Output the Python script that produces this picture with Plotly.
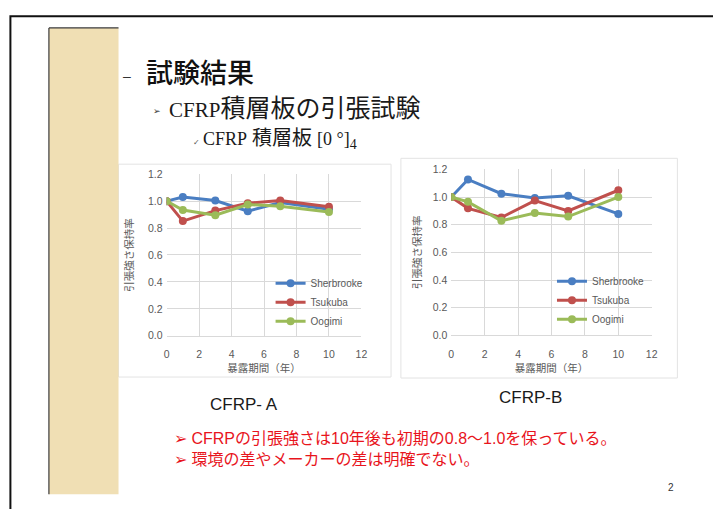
import plotly.graph_objects as go

W, H = 713, 509

years = [0, 1, 3, 5, 7, 10]
series_names = ["Sherbrooke", "Tsukuba", "Oogimi"]
colors = ["#4a7ec2", "#c0504d", "#9bbb59"]

a_sherbrooke = [1.00, 1.03, 1.005, 0.925, 0.99, 0.94]
a_tsukuba = [1.00, 0.852, 0.93, 0.985, 1.005, 0.958]
a_oogimi = [1.00, 0.934, 0.895, 0.975, 0.963, 0.919]

b_sherbrooke = [1.00, 1.127, 1.024, 0.993, 1.009, 0.878]
b_tsukuba = [1.00, 0.918, 0.852, 0.974, 0.899, 1.049]
b_oogimi = [1.00, 0.965, 0.828, 0.885, 0.859, 1.00]

x_ticks = [0, 2, 4, 6, 8, 10, 12]
y_ticks = [0.0, 0.2, 0.4, 0.6, 0.8, 1.0, 1.2]

x_title = "暴露期間（年）"
y_title = "引張強さ保持率"

def px(x):
    return x / W

def py(y):
    return 1 - y / H

fig = go.Figure()

for i, (name, vals) in enumerate(zip(series_names, [a_sherbrooke, a_tsukuba, a_oogimi])):
    fig.add_trace(go.Scatter(x=years, y=vals, name=name, mode="lines+markers",
                             line=dict(color=colors[i], width=3),
                             marker=dict(color=colors[i], size=8),
                             xaxis="x", yaxis="y", legend="legend"))
for i, (name, vals) in enumerate(zip(series_names, [b_sherbrooke, b_tsukuba, b_oogimi])):
    fig.add_trace(go.Scatter(x=years, y=vals, name=name, mode="lines+markers",
                             line=dict(color=colors[i], width=3),
                             marker=dict(color=colors[i], size=8),
                             xaxis="x2", yaxis="y2", legend="legend2"))

tickfont = dict(family="Liberation Sans, Noto Sans CJK JP", size=10.5, color="#595959")
titlefont = dict(family="Noto Sans CJK JP", size=10.5, color="#595959")

def xaxis(dom, anchor):
    return dict(domain=dom, anchor=anchor, range=[0, 12], tickvals=x_ticks,
                showgrid=True, gridcolor="#d9d9d9", gridwidth=1,
                showline=True, linecolor="#d9d9d9", zeroline=False,
                ticks="", tickfont=tickfont, ticklabelstandoff=9,
                title=dict(text=x_title, font=titlefont, standoff=3), fixedrange=True)

def yaxis(dom, anchor, standoff):
    return dict(domain=dom, anchor=anchor, range=[0, 1.2], tickvals=y_ticks,
                tickformat=".1f", showgrid=True, gridcolor="#d9d9d9", gridwidth=1,
                showline=False, zeroline=False, ticks="", tickfont=tickfont,
                ticklabelstandoff=3,
                title=dict(text=y_title, font=titlefont, standoff=standoff), fixedrange=True)

legfont = dict(family="Liberation Sans, DejaVu Sans", size=10, color="#595959")

fig.update_layout(
    width=W, height=H,
    margin=dict(l=0, r=0, t=0, b=0),
    paper_bgcolor="white", plot_bgcolor="white",
    xaxis=xaxis([px(165.7), px(363)], "y"),
    yaxis=yaxis([py(337.7), py(172.3)], "x", 12),
    xaxis2=xaxis([px(454), px(657)], "y2"),
    yaxis2=yaxis([py(337.3), py(167.3)], "x2", 8),
    legend=dict(x=px(271), y=py(269), xanchor="left", yanchor="top",
                bgcolor="rgba(0,0,0,0)", font=legfont, itemwidth=30,
                tracegroupgap=0, traceorder="normal"),
    legend2=dict(x=px(556), y=py(267), xanchor="left", yanchor="top",
                 bgcolor="rgba(0,0,0,0)", font=legfont, itemwidth=30,
                 tracegroupgap=0, traceorder="normal"),
    showlegend=True,
)

shapes = []
shapes.append(dict(type="rect", xref="paper", yref="paper",
                   x0=px(117), x1=px(393), y0=py(380), y1=py(162),
                   line=dict(color="#e3e3e3", width=1), fillcolor="rgba(0,0,0,0)", layer="below"))
shapes.append(dict(type="rect", xref="paper", yref="paper",
                   x0=px(403), x1=px(683), y0=py(381), y1=py(156),
                   line=dict(color="#e3e3e3", width=1), fillcolor="rgba(0,0,0,0)", layer="below"))
shapes.append(dict(type="rect", xref="paper", yref="paper",
                   x0=px(46.5), x1=px(117), y0=py(500), y1=py(22.5),
                   line=dict(width=0), fillcolor="#f0dfb4", layer="below"))
shapes.append(dict(type="line", xref="paper", yref="paper",
                   x0=px(46.5), x1=px(46.5), y0=py(500), y1=py(22.5),
                   line=dict(color="#3a3a3a", width=1.2)))
shapes.append(dict(type="line", xref="paper", yref="paper",
                   x0=px(46.5), x1=px(117), y0=py(22.5), y1=py(22.5),
                   line=dict(color="#3a3a3a", width=1.2)))
shapes.append(dict(type="rect", xref="paper", yref="paper",
                   x0=px(7.5), x1=px(730), y0=py(530), y1=py(10.5),
                   line=dict(color="#111111", width=2), fillcolor="rgba(0,0,0,0)"))
fig.update_layout(shapes=shapes)

ann = []
def text(x, y, s, size, color="#1a1a1a", family="Noto Sans CJK JP", xanchor="left", weight=None, align="left"):
    f = dict(size=size, color=color, family=family)
    if weight:
        f["weight"] = weight
    ann.append(dict(x=px(x), y=py(y), xref="paper", yref="paper", text=s,
                    showarrow=False, xanchor=xanchor, yanchor="middle", align=align, font=f))

text(120, 72, "–", 14, color="#333333", family="Liberation Sans")
text(143, 67, "試験結果", 27, color="#111111", weight=500)
text(150, 108, "➢", 9, color="#333333", family="DejaVu Sans")
text(166, 105, '<span style="font-size:21px">CFRP</span>積層板の引張試験', 25,
     family="Liberation Serif, Noto Sans CJK JP")
text(190, 140, "✓", 8, color="#555555", family="DejaVu Sans")
text(201, 137, '<span style="font-size:18px">CFRP</span> 積層板 <span style="font-size:18px">[0 °]</span><sub>4</sub>', 20,
     family="Liberation Serif, Noto Sans CJK JP")
text(244, 408, "CFRP- A", 17, family="Liberation Sans", xanchor="center")
text(534, 401, "CFRP-B", 17, family="Liberation Sans", xanchor="center")
text(171, 454, "➢ CFRPの引張強さは10年後も初期の0.8～1.0を保っている。<br>➢ 環境の差やメーカーの差は明確でない。", 16,
     color="#e8141c", family="Liberation Sans, Noto Sans CJK JP")
text(677, 493, "2", 10, color="#333333", family="Liberation Sans", xanchor="center")
fig.update_layout(annotations=ann)

fig.write_html("out.html", config={"displayModeBar": False},
               post_script="document.body.style.margin='0';document.body.style.overflow='hidden';")
